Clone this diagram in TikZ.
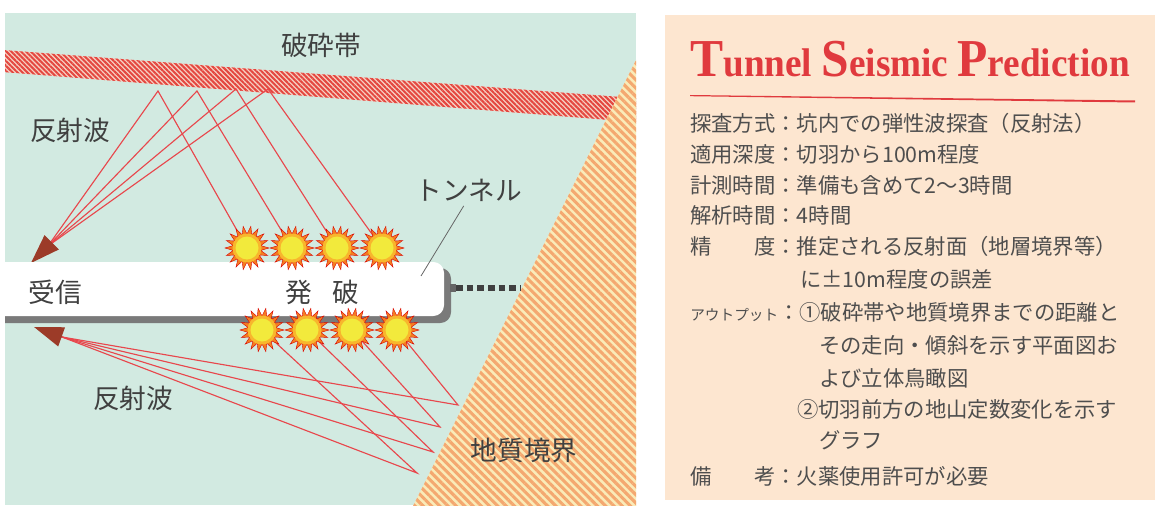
\documentclass[tikz,border=0pt]{standalone}
\usepackage{fontspec}
\usepackage{graphicx}
\setmainfont{Liberation Serif}
\newfontfamily\jp{Noto Sans CJK JP}
\usetikzlibrary{arrows.meta,patterns.meta}

\definecolor{seagreen}{HTML}{D2EAE1}
\definecolor{peach}{HTML}{FDE6D0}
\definecolor{rayred}{HTML}{E8474C}
\definecolor{faultred}{HTML}{E4463F}
\definecolor{faultpale}{HTML}{F6D2C4}
\definecolor{stripeorange}{HTML}{F4A870}
\definecolor{stripeyellow}{HTML}{FAEBB8}
\definecolor{inkgray}{HTML}{4E4E4E}
\definecolor{tipbrown}{HTML}{9C3B28}
\definecolor{titlered}{HTML}{E03A3E}
\definecolor{spike}{HTML}{F47C20}
\definecolor{ring}{HTML}{F8B62D}
\definecolor{core}{HTML}{F2EA3C}

\newcommand\bigletter[1]{{\fontsize{40}{40}\selectfont #1}}

\begin{document}
\begin{tikzpicture}[
  x = 0.75pt, y = -0.75pt,
  lbl/.style = {font=\jp\fontsize{20}{24}\selectfont, text=black!75},
  txt/.style = {font=\jp\fontsize{16}{19}\selectfont, text=inkgray, anchor=west, inner sep=0},
  ray/.style = {rayred, line width=0.85pt},
  recv/.style = {tipbrown, line width=1pt, -{Triangle[length=22pt,width=15pt]}},
  leader/.style = {black!60, line width=0.6pt},
  dots/.style = {black!75, line width=4pt, dash pattern=on 5pt off 3pt},
  blast/.pic = {
    \fill[spike, draw=red!85!black, line width=0.3pt]
      (0:22) \foreach \a in {1,...,35} { -- ({\a*10}:{22-8*mod(\a,2)}) } -- cycle;
    \fill[ring] (0,0) circle (14.5);
    \fill[core] (0,0) circle (11.5);
  }
]

\useasboundingbox (0,0) rectangle (1159,506);
\fill[white] (0,0) rectangle (1159,506);

% left panel
\begin{scope}
  \clip (5,13) rectangle (636,505);
  \fill[seagreen] (5,13) rectangle (636,505);

  % fault zone
  \fill[faultpale] (-10,49) -- (660,100) -- (660,124) -- (-10,71) -- cycle;
  \fill[pattern={Lines[angle=-45,distance=2.6pt,line width=1.5pt]}, pattern color=faultred]
    (-10,49) -- (660,100) -- (660,124) -- (-10,71) -- cycle;

  % geological boundary
  \fill[stripeyellow] (636,60) -- (413,506) -- (660,506) -- (660,60) -- cycle;
  \fill[pattern={Lines[angle=-45,distance=4.4pt,line width=2.3pt]}, pattern color=stripeorange]
    (636,60) -- (413,506) -- (660,506) -- (660,60) -- cycle;

  % shot points, reflection points, receivers
  \foreach \x [count=\i] in {247,292,337,382} \coordinate (t\i) at (\x,248);
  \foreach \x [count=\i] in {262,307,352,397} \coordinate (b\i) at (\x,330);
  \coordinate (r1) at (158,91);
  \coordinate (r2) at (197,91);
  \coordinate (r3) at (236,89);
  \coordinate (r4) at (268,89);
  \coordinate (g1) at (417,473);
  \coordinate (g2) at (433,452);
  \coordinate (g3) at (440,427);
  \coordinate (g4) at (458,405);
  \coordinate (rt) at (48,246);
  \coordinate (rttip) at (31,263);
  \coordinate (rb) at (62,337);
  \coordinate (rbtip) at (34,327);

  \foreach \i in {1,...,4} {
    \draw[ray] (t\i) -- (r\i) -- (rt);
    \draw[ray] (b\i) -- (g\i) -- (rb);
  }
  \draw[recv] (rt) -- (rttip);
  \draw[recv] (rb) -- (rbtip);

  % tunnel
  \fill[black!52, rounded corners=8pt] (-10,268) rectangle (451,323);
  \fill[white, rounded corners=8pt] (-10,262) rectangle (444,316);
  \fill[black!60] (450,284) rectangle (456,292);
  \coordinate (knob) at (456,288);
  \coordinate (face) at (521,288);
  \draw[dots] (knob) -- (face);

  \foreach \i in {1,...,4} {
    \pic at (t\i) {blast};
    \pic at (b\i) {blast};
  }
\end{scope}

\node[lbl] (fault) at (321,45) {破砕帯};
\node[lbl] (wavetop) at (70,130) {反射波};
\node[lbl] (wavebot) at (133,398) {反射波};
\node[lbl] (recvtxt) at (55,292) {受信};
\node[lbl] (shot) at (322,292) {発\hspace{0.75em}破};
\node[lbl] (tunlbl) at (469,190) {トンネル};
\node[lbl] (geo) at (524,450) {地質境界};
\coordinate (tunpt) at (421,276);
\draw[leader] ([xshift=-4pt]tunlbl.south) -- (tunpt);

% right panel
\fill[peach] (665,15) rectangle (1155,500);
\node[anchor=base west, inner sep=0, text=titlered, font=\bfseries\fontsize{30}{30}\selectfont]
  (title) at (690,77)
  {\scalebox{0.93}[1]{\bigletter{T}unnel \bigletter{S}eismic \bigletter{P}rediction}};
\fill[titlered] (690,95) -- (1135,100.5) -- (1135,102.5) -- (690,96.2) -- cycle;

\node[txt] (mode) at (690,123) {探査方式：坑内での弾性波探査（反射法）};
\node[txt] (depth) at (690,154) {適用深度：切羽から100m程度};
\node[txt] (meas) at (690,185) {計測時間：準備も含めて2〜3時間};
\node[txt] (anal) at (690,215) {解析時間：4時間};
\node[txt] (acc) at (690,246) {精　　度：推定される反射面（地層境界等）};
\node[txt] (acc2) at (800,279) {に±10m程度の誤差};
\node[txt] (out) at (690,312) {{\fontsize{11}{13}\selectfont アウトプット}：①破砕帯や地質境界までの距離と};
\node[txt] (out2) at (819,345) {その走向・傾斜を示す平面図お};
\node[txt] (out3) at (819,378) {よび立体鳥瞰図};
\node[txt] (out4) at (797,409) {②切羽前方の地山定数変化を示す};
\node[txt] (out5) at (819,440) {グラフ};
\node[txt] (note) at (690,476) {備　　考：火薬使用許可が必要};

\end{tikzpicture}
\end{document}
